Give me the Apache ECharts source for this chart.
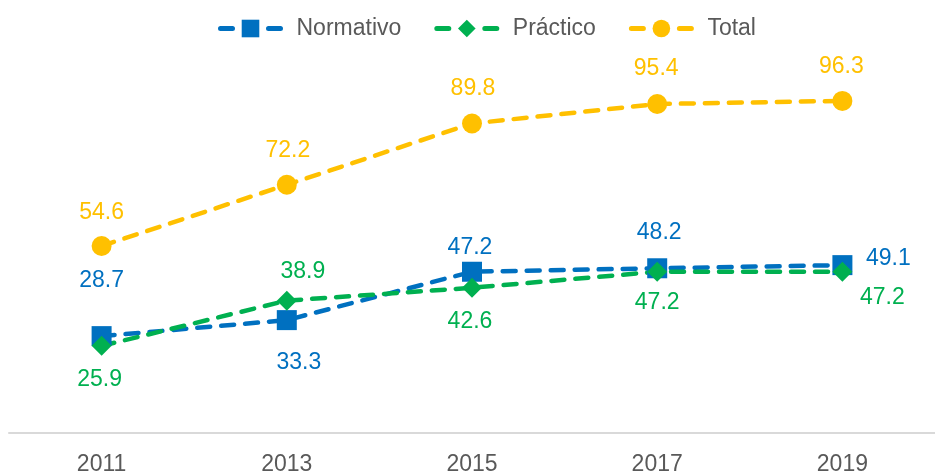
<!DOCTYPE html>
<html>
<head>
<meta charset="utf-8">
<script src="https://cdn.jsdelivr.net/npm/echarts@6/dist/echarts.min.js"></script>
<style>html,body{margin:0;padding:0;background:#fff}#c{width:935px;height:476px}</style>
</head>
<body>
<div id="c"></div>
<script>
var categories = ['2011', '2013', '2015', '2017', '2019'];
var normativo = [28.7, 33.3, 47.2, 48.2, 49.1];
var practico = [25.9, 38.9, 42.6, 47.2, 47.2];
var total = [54.6, 72.2, 89.8, 95.4, 96.3];

// label offsets (dx, dy) relative to point center
var normOff = [[0, -55], [12, 43], [-2, -24], [2, -36], [46, -6]];
var pracOff = [[-2, 34], [16, -29], [-2, 34], [0, 31], [40, 26]];
var totOff = [[0, -33], [1, -34], [1, -35], [-1, -35], [-1, -34]];

function build(vals, offs) {
  return vals.map(function (v, i) {
    return { value: v, label: { offset: offs[i] } };
  });
}

var font = '"Liberation Sans", Arial, sans-serif';
function series(name, vals, offs, color, symbol, size) {
  return {
    name: name,
    type: 'line',
    data: build(vals, offs),
    symbol: symbol,
    symbolSize: size,
    itemStyle: { color: color },
    lineStyle: { color: color, width: 4.5, type: [13, 11], cap: 'round' },
    label: {
      show: true,
      position: 'inside',
      color: color,
      fontSize: 23,
      fontFamily: font,
      formatter: function (p) { return p.value.toFixed(1); }
    },
    z: 2
  };
}

var chart = echarts.init(document.getElementById('c'));
chart.setOption({
  animation: false,
  backgroundColor: '#fff',
  legend: {
    top: 12,
    left: 213,
    itemWidth: 60,
    itemHeight: 22,
    itemGap: 33,
    lineStyle: { width: 5, type: [12, 36], cap: 'round' },
    textStyle: { color: '#595959', fontSize: 23, fontFamily: font, padding: [0, 0, 0, 11] },
    data: ['Normativo', 'Práctico', 'Total']
  },
  grid: { left: 9, right: -4, top: 88, bottom: 36 },
  xAxis: {
    type: 'category',
    data: categories,
    boundaryGap: true,
    offset: -3,
    axisLine: { onZero: false, lineStyle: { color: '#d9d9d9', width: 2 } },
    axisTick: { show: false },
    axisLabel: { color: '#595959', fontSize: 23, fontFamily: font, margin: 20 }
  },
  yAxis: {
    type: 'value',
    min: 0,
    max: 100,
    show: false,
    splitLine: { show: false }
  },
  series: [
    series('Normativo', normativo, normOff, '#0070C0', 'rect', 20),
    series('Práctico', practico, pracOff, '#00B050', 'diamond', 20),
    series('Total', total, totOff, '#FFC000', 'circle', 20)
  ]
});
</script>
</body>
</html>
